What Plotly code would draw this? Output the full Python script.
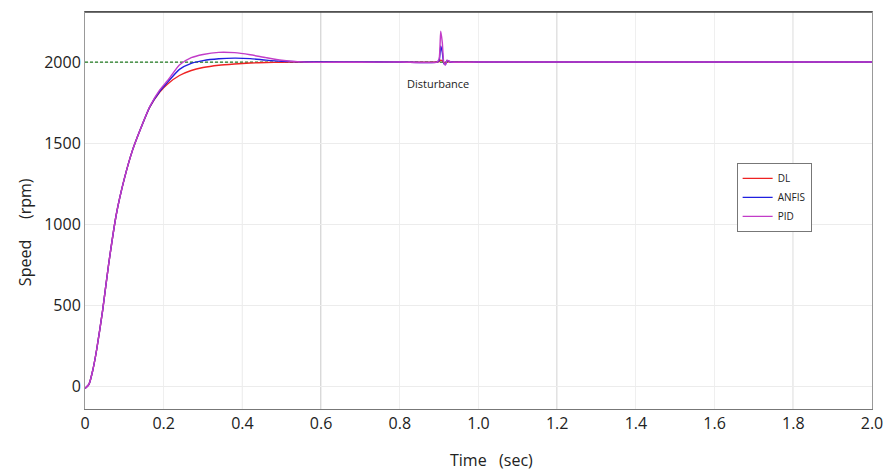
import plotly.graph_objects as go

# Simulation time (s)
time_s = [0, 0.01, 0.02, 0.03, 0.045, 0.06, 0.08, 0.10, 0.12, 0.14, 0.165, 0.19,
          0.21, 0.24, 0.27, 0.30, 0.34, 0.38, 0.42, 0.46, 0.50, 0.55, 0.60, 0.70,
          0.80, 0.895, 0.900, 0.904, 0.908, 0.912, 0.916, 0.920, 0.924, 0.930,
          1.0, 1.5, 2.0]

# Motor speed responses (rpm)
speed_dl = [-15, 10, 100, 230, 470, 750, 1065, 1280, 1450, 1580, 1723, 1815,
            1865, 1917, 1948, 1966, 1980, 1988, 1994, 1997, 1999, 2000, 2000, 2000,
            2000, 2000, 2003, 2012, 2008, 1998, 1996, 2002, 2001, 2000,
            2000, 2000, 2000]
speed_anfis = [-15, 10, 100, 230, 470, 750, 1065, 1280, 1450, 1580, 1725, 1820,
               1876, 1955, 1992, 2009, 2020, 2024, 2021, 2012, 2005, 2001, 2000, 2000,
               2000, 2000, 2010, 2100, 2060, 1990, 1985, 2010, 2005, 2000,
               2000, 2000, 2000]
speed_pid = [-15, 10, 100, 230, 470, 750, 1065, 1280, 1450, 1580, 1727, 1828,
             1886, 1982, 2027, 2047, 2060, 2058, 2045, 2027, 2011, 2001, 1998, 1999,
             2000, 2000, 2020, 2190, 2120, 1995, 1982, 2012, 2008, 2000,
             2000, 2000, 2000]

reference_rpm = 2000
x_ticks = [0, 0.2, 0.4, 0.6, 0.8, 1.0, 1.2, 1.4, 1.6, 1.8, 2.0]
x_tick_text = ["0", "0.2", "0.4", "0.6", "0.8", "1.0", "1.2", "1.4", "1.6", "1.8", "2.0"]
y_ticks = [0, 500, 1000, 1500, 2000]

font_family = "Open Sans, Liberation Sans, sans-serif"

fig = go.Figure()

# Speed reference (dashed)
fig.add_trace(go.Scatter(
    x=[time_s[0], time_s[-1]], y=[reference_rpm, reference_rpm],
    mode="lines", line=dict(color="#1f7a1f", width=1.2, dash="3px,2px"),
    showlegend=False, hoverinfo="skip"))

for name, ys, color in [("DL", speed_dl, "#ee2222"),
                        ("ANFIS", speed_anfis, "#2020e0"),
                        ("PID", speed_pid, "#c23cc8")]:
    fig.add_trace(go.Scatter(
        x=time_s, y=ys, name=name, mode="lines",
        line=dict(color=color, width=1.4, shape="spline", smoothing=0.6)))

# Vertical grid lines drawn with varying strength
grid_shade = {0.4: "#cfcfcf", 1.0: "#bdbdbd", 0.6: "#a0a0a0", 1.2: "#a0a0a0", 1.8: "#a0a0a0"}
for xv, col in grid_shade.items():
    fig.add_shape(type="line", xref="x", yref="paper", x0=xv, x1=xv, y0=0, y1=1,
                  line=dict(color=col, width=1), layer="below")

fig.add_annotation(x=0.897, y=1870, text="Disturbance", showarrow=False,
                   font=dict(family=font_family, size=11, color="#222"))

# Axis titles
fig.add_annotation(xref="paper", yref="paper", x=0.5165, y=-0.128,
                   text="Time   (sec)", showarrow=False, xanchor="center",
                   yanchor="middle", font=dict(size=16))
fig.add_annotation(xref="paper", yref="paper", x=-0.076, y=0.446,
                   text="Speed     (rpm)", showarrow=False, textangle=-90,
                   xanchor="center", yanchor="middle", font=dict(size=16))

fig.update_layout(
    width=884, height=470,
    margin=dict(l=85, r=12, t=12, b=61),
    plot_bgcolor="white", paper_bgcolor="white",
    font=dict(family=font_family, size=16, color="#222"),
    legend=dict(x=0.828, y=0.62, xanchor="left", yanchor="top",
                bordercolor="#777", borderwidth=1, bgcolor="white",
                font=dict(size=10), itemwidth=30, tracegroupgap=0),
    xaxis=dict(range=[0, 2.0], tickvals=x_ticks, ticktext=x_tick_text,
               showgrid=True, gridcolor="#efefef", zeroline=False,
               showline=True, linecolor="#777", mirror=True, automargin=False,
               ticks=""),
    yaxis=dict(range=[-142, 2309], tickvals=y_ticks,
               showgrid=True, gridcolor="#ececec", zeroline=False,
               showline=True, linecolor="#999", mirror=True, automargin=False,
               ticks=""),
)

# Darker top frame edge
fig.add_shape(type="line", xref="paper", yref="paper", x0=0, x1=1, y0=1, y1=1,
              line=dict(color="#444", width=1.5))

fig.write_html("out.html")
